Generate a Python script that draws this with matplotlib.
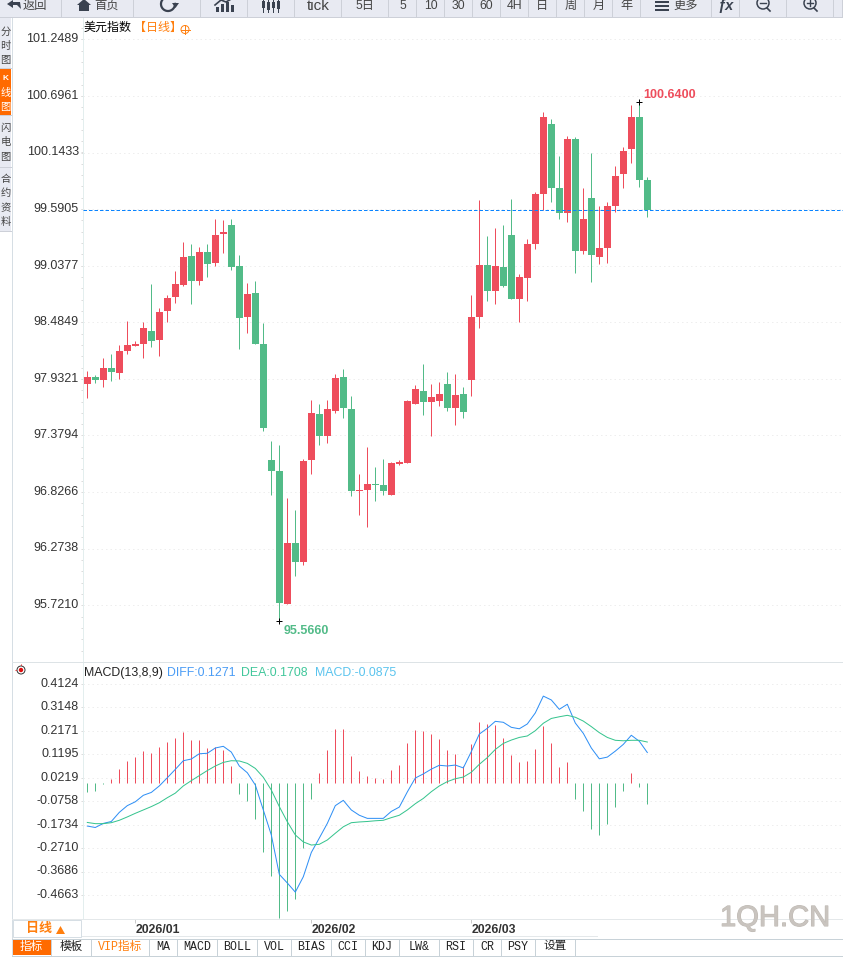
import matplotlib
matplotlib.use('Agg')
import matplotlib.pyplot as plt
import matplotlib.patheffects as pe
from matplotlib.patches import Rectangle, Circle, Polygon, Arc
from matplotlib.ticker import AutoMinorLocator
from matplotlib.transforms import ScaledTranslation

plt.rcParams['font.family'] = ['Liberation Sans', 'Noto Sans CJK SC', 'DejaVu Sans']

# daily candles, oldest first
candle_open = [97.882, 97.950, 97.921, 98.038, 97.989, 98.204, 98.253, 98.272, 98.399, 98.311,
               98.595, 98.732, 98.849, 99.132, 98.888, 99.171, 99.064, 99.347, 99.435, 99.034,
               98.536, 98.771, 98.272, 97.140, 97.032, 95.733, 96.329, 96.143, 97.140, 97.589,
               97.374, 97.618, 97.950, 97.638, 96.837, 96.847, 96.905, 96.896, 96.798, 97.101,
               97.110, 97.687, 97.814, 97.706, 97.716, 97.882, 97.648, 97.785, 97.921, 98.537,
               99.045, 98.791, 99.025, 99.338, 98.712, 98.918, 99.250, 99.738, 100.422, 99.797,
               99.553, 100.275, 99.181, 99.699, 99.123, 99.211, 99.621, 99.934, 100.178, 100.490, 99.875]
candle_close = [97.950, 97.921, 98.038, 97.999, 98.204, 98.263, 98.272, 98.429, 98.302, 98.585,
                98.722, 98.858, 99.122, 98.888, 99.171, 99.054, 99.337, 99.366, 99.025, 98.526,
                98.761, 98.272, 97.452, 97.032, 95.743, 96.329, 96.143, 97.130, 97.599, 97.374,
                97.638, 97.941, 97.648, 96.837, 96.847, 96.905, 96.896, 96.837, 97.110, 97.120,
                97.716, 97.833, 97.706, 97.755, 97.785, 97.648, 97.775, 97.609, 98.537, 99.045,
                98.791, 99.035, 98.839, 98.712, 98.927, 99.250, 99.738, 100.490, 99.797, 99.553,
                100.275, 99.181, 99.494, 99.142, 99.211, 99.621, 99.914, 100.158, 100.490, 99.875, 99.579]
candle_high = [98.009, 97.970, 98.136, 98.175, 98.263, 98.497, 98.302, 98.487, 98.858, 98.624,
               98.751, 98.985, 99.269, 99.249, 99.220, 99.249, 99.493, 99.484, 99.493, 99.142,
               98.868, 98.888, 98.478, 97.325, 97.286, 96.769, 96.651, 97.150, 97.726, 97.687,
               97.726, 97.980, 98.029, 97.765, 97.003, 97.267, 97.071, 97.150, 97.120, 97.140,
               97.726, 97.872, 98.077, 97.882, 97.902, 97.999, 97.980, 97.853, 98.752, 99.680,
               99.328, 99.406, 99.435, 99.689, 98.957, 99.299, 99.758, 100.539, 100.471, 100.109,
               100.305, 100.295, 99.797, 100.139, 99.621, 99.660, 100.012, 100.197, 100.607, 100.640, 99.904]
candle_low = [97.745, 97.891, 97.852, 97.911, 97.931, 98.175, 98.253, 98.136, 98.243, 98.155,
              98.487, 98.673, 98.839, 98.663, 98.849, 98.927, 99.034, 99.161, 98.995, 98.224,
              98.380, 98.272, 97.423, 96.798, 95.566, 95.733, 96.007, 96.114, 97.003, 97.286,
              97.306, 97.599, 97.550, 96.788, 96.603, 96.485, 96.739, 96.798, 96.798, 97.091,
              97.110, 97.687, 97.579, 97.374, 97.667, 97.618, 97.481, 97.550, 97.765, 98.429,
              98.693, 98.664, 98.830, 98.712, 98.488, 98.693, 99.201, 99.582, 99.660, 99.494,
              99.465, 98.966, 99.152, 98.879, 99.054, 99.064, 99.562, 99.797, 100.041, 99.806, 99.513]

diff_line = [-0.179, -0.185, -0.168, -0.160, -0.122, -0.094, -0.078, -0.051, -0.039, -0.012,
             0.022, 0.057, 0.093, 0.100, 0.122, 0.124, 0.146, 0.153, 0.129, 0.071,
             0.043, -0.008, -0.112, -0.216, -0.380, -0.416, -0.454, -0.390, -0.289, -0.229,
             -0.168, -0.094, -0.072, -0.112, -0.134, -0.147, -0.147, -0.147, -0.118, -0.100,
             -0.037, 0.021, 0.038, 0.058, 0.074, 0.071, 0.075, 0.063, 0.131, 0.204,
             0.228, 0.257, 0.253, 0.232, 0.226, 0.246, 0.292, 0.362, 0.346, 0.307,
             0.328, 0.250, 0.207, 0.146, 0.101, 0.108, 0.133, 0.161, 0.199, 0.174, 0.1271]
dea_line = [-0.164, -0.169, -0.169, -0.165, -0.155, -0.141, -0.126, -0.112, -0.098, -0.082,
            -0.061, -0.042, -0.012, 0.010, 0.031, 0.052, 0.071, 0.086, 0.093, 0.092,
            0.082, 0.061, 0.024, -0.029, -0.098, -0.161, -0.216, -0.245, -0.258, -0.255,
            -0.237, -0.209, -0.182, -0.165, -0.162, -0.160, -0.157, -0.155, -0.144, -0.134,
            -0.112, -0.086, -0.064, -0.036, -0.012, 0.006, 0.018, 0.025, 0.045, 0.078,
            0.106, 0.140, 0.165, 0.179, 0.190, 0.196, 0.218, 0.249, 0.269, 0.276,
            0.282, 0.274, 0.258, 0.235, 0.210, 0.190, 0.178, 0.176, 0.178, 0.178, 0.1708]
macd_hist = [-0.036, -0.032, -0.002, 0.018, 0.060, 0.093, 0.110, 0.135, 0.126, 0.151,
             0.172, 0.189, 0.214, 0.181, 0.181, 0.148, 0.151, 0.139, 0.072, -0.045,
             -0.074, -0.149, -0.285, -0.385, -0.560, -0.531, -0.481, -0.272, -0.065, 0.040,
             0.139, 0.226, 0.226, 0.114, 0.051, 0.031, 0.022, 0.018, 0.056, 0.076,
             0.167, 0.221, 0.217, 0.204, 0.183, 0.139, 0.122, 0.072, 0.164, 0.255,
             0.247, 0.243, 0.189, 0.118, 0.089, 0.093, 0.143, 0.239, 0.167, 0.068,
             0.089, -0.065, -0.115, -0.190, -0.215, -0.169, -0.099, -0.032, 0.043, -0.015, -0.0875]

price_ticks = [101.2489, 100.6961, 100.1433, 99.5905, 99.0377, 98.4849, 97.9321, 97.3794, 96.8266, 96.2738, 95.7210]
macd_ticks = [0.4124, 0.3148, 0.2171, 0.1195, 0.0219, -0.0758, -0.1734, -0.2710, -0.3686, -0.4663]
month_pos = [6, 28, 48]
month_labels = ['2026/01', '2026/02', '2026/03']

toolbar_labels = ['tick', '5日', '5', '10', '30', '60', '4H', '日', '周', '月', '年']
side_tabs = ['分时图', 'K线图', '闪电图', '合约资料']
bottom_tabs = ['指标', '模板', 'VIP指标', 'MA', 'MACD', 'BOLL', 'VOL', 'BIAS', 'CCI', 'KDJ', 'LW&', 'RSI', 'CR', 'PSY', '设置']

RED = '#EE4D5C'
GREEN = '#52BB88'
ORANGE = '#FF7F0E'
TAB = '#E8EAF2'
EDGE = '#CDD0D8'
PT = 0.72  # one pixel in points at dpi 100

W, H = 843, 957


def place(top, bottom):
    return fig.add_axes([83 / W, 1 - bottom / H, (W - 83) / W, (bottom - top) / H])


fig = plt.figure(figsize=(W / 100, H / 100), dpi=100, facecolor='white')

# price panel
ax1 = place(18, 661)
idx = list(range(len(candle_open)))
colors = [RED if c >= o else GREEN for o, c in zip(candle_open, candle_close)]
ax1.vlines(idx, candle_low, candle_high, colors=colors, lw=PT)
ax1.bar(idx, [abs(c - o) for o, c in zip(candle_open, candle_close)],
        bottom=[min(o, c) for o, c in zip(candle_open, candle_close)],
        width=7 / 8, color=colors, linewidth=0, zorder=3)
ax1.set_xlim(-0.5375, 94.46)
ax1.set_ylim(101.633 - 661 * 0.009768, 101.633 - 18 * 0.009768)
ax1.set_yticks(price_ticks, labels=['%.4f' % v for v in price_ticks])
ax1.yaxis.set_minor_locator(AutoMinorLocator(5))
ax1.grid(axis='y', color='#EEEEEE', lw=PT, ls=(0, (1.5, 3)))
ax1.set_axisbelow(True)
ax1.set_xticks([])
ax1.axhline(candle_close[-1], color='#0A84FF', lw=PT, ls=(0, (3.5, 2)), zorder=4)

top_i = candle_high.index(max(candle_high))
low_i = candle_low.index(min(candle_low))
ax1.plot([top_i], [candle_high[top_i]], marker='+', color='black', ms=5, mew=PT, zorder=5)
ax1.plot([low_i], [candle_low[low_i]], marker='+', color='black', ms=5, mew=PT, zorder=5)
ax1.annotate('%.4f' % candle_high[top_i], (top_i, candle_high[top_i]), xytext=(3, 0.7),
             textcoords='offset points', color=RED, fontweight='bold', fontsize=9, va='bottom')
ax1.annotate('%.4f' % candle_low[low_i], (low_i, candle_low[low_i]), xytext=(3, -3),
             textcoords='offset points', color=GREEN, fontweight='bold', fontsize=9, va='top')

# macd panel
ax2 = place(662, 919)
ax2.vlines(idx, 0, macd_hist, colors=[RED if v > 0 else GREEN for v in macd_hist], lw=PT)
ax2.plot(idx, diff_line, color='#2E8FF5', lw=PT)
ax2.plot(idx, dea_line, color='#36C48E', lw=PT)
ax2.set_xlim(-0.5375, 94.46)
ax2.set_ylim(0.4124 - (919 - 684) / 240.2, 0.4124 + (684 - 662) / 240.2)
ax2.set_yticks(macd_ticks, labels=['%.4f' % v for v in macd_ticks])
ax2.grid(axis='y', color='#EEEEEE', lw=PT, ls=(0, (1.5, 3)))
ax2.set_axisbelow(True)
ax2.set_xticks(month_pos, labels=month_labels, ha='left', fontweight='bold', fontsize=8.8, color='#333333')
ax2.tick_params(axis='x', length=3, width=PT, color='#CCCCCC', pad=0.3)

lift = ScaledTranslation(0, 1.2 / 72, fig.dpi_scale_trans)
for ax in (ax1, ax2):
    for s in ('top', 'right', 'bottom'):
        ax.spines[s].set_visible(False)
    ax.spines['left'].set_color('#E3EEEE')
    ax.spines['left'].set_linewidth(PT)
    ax.tick_params(axis='y', which='both', length=1.5, width=PT, color='#DDDDDD',
                   labelsize=9, labelcolor='#333333', pad=1.6)
    for lab in ax.get_yticklabels():
        lab.set_transform(lab.get_transform() + lift)

# page furniture, drawn in pixel coordinates
page = fig.add_axes([0, 0, 1, 1], zorder=10)
page.set_xlim(0, W)
page.set_ylim(H, 0)
page.axis('off')
page.patch.set_alpha(0)


def box(x0, y0, x1, y1, fc, ec='none', lw=0.0):
    page.add_patch(Rectangle((x0, y0), x1 - x0, y1 - y0, fc=fc, ec=ec, lw=lw))


def hline(y, x0, x1, c='#DDE3E6'):
    page.plot([x0, x1], [y, y], color=c, lw=PT)


def vline(x, y0, y1, c='#DDE3E6'):
    page.plot([x, x], [y0, y1], color=c, lw=PT)


# toolbar
edges = [0, 62, 134, 201, 248, 295, 342, 389, 417, 445, 473, 501, 529, 557, 585, 613, 641, 712, 740, 787, 834, 843]
for a, b in zip(edges[:-1], edges[1:]):
    box(a, 0, b - 1, 17, TAB)
    hline(17, a, b - 1, EDGE)
    vline(b - 1, 0, 17, EDGE)
for lab, a, b in zip(toolbar_labels, edges[5:16], edges[6:17]):
    page.text((a + b) / 2 - 0.5, 6, lab, ha='center', va='center', color='#444444',
              fontsize=11 if lab == 'tick' else 8.8)
page.text(23, 6, '返回', va='center', color='#444444', fontsize=8.8)
page.text(94, 6, '首页', va='center', color='#444444', fontsize=8.8)
page.text(673, 6, '更多', va='center', color='#444444', fontsize=8.8)
page.text(717, 6, 'ƒx', va='center', color='#3A4250', fontsize=10.5, fontweight='bold', style='italic')
# back arrow, home
page.add_patch(Polygon([(7, 4), (13, 0), (13, 2), (20, 2), (21, 9), (17, 5), (13, 5), (13, 8)], fc='#3A4250'))
page.add_patch(Polygon([(77, 5), (84, -1), (91, 5), (89, 5), (89, 11), (79, 11), (79, 5)], fc='#3A4250'))
# refresh
page.add_patch(Arc((168, 4), 14, 14, theta1=-10, theta2=280, ec='#3A4250', lw=1.6))
page.add_patch(Polygon([(172, 3), (179, 3), (175.5, 8)], fc='#3A4250'))
# bar chart icon
for x, y in zip((216, 221, 226, 231), (7, 4, 2, 5)):
    box(x, y, x + 3, 12, '#3A4250')
page.plot([215, 221, 226, 233], [5, 0, 2, -2], color='#3A4250', lw=1.2)
# candle icon
for x, y0, y1 in zip((263, 268, 273, 278), (1, 2, 2, 1), (8, 10, 8, 9)):
    vline(x, 0, 12, '#3A4250')
    box(x - 1.5, y0, x + 1.5, y1, '#3A4250')
# hamburger
for y in (1, 5, 9):
    box(655, y, 669, y + 2, '#3A4250')
# zoom buttons
for cx, plus in ((763, False), (810, True)):
    page.add_patch(Circle((cx, 3), 6, fc='none', ec='#3A4250', lw=1.1))
    page.plot([cx + 4, cx + 7], [8, 11], color='#3A4250', lw=1.2)
    page.plot([cx - 3, cx + 3], [3, 3], color='#3A4250', lw=1.0)
    if plus:
        page.plot([cx, cx], [0, 6], color='#3A4250', lw=1.0)

# side tabs
spans = [(18, 68), (69, 115), (116, 167), (168, 231)]
for lab, (y0, y1) in zip(side_tabs, spans):
    active = lab.startswith('K')
    box(0, y0, 11, y1, '#FF6A00' if active else TAB)
    hline(y1, 0, 11, EDGE)
    step = 14.3
    start = (y0 + y1) / 2 - step * (len(lab) - 1) / 2
    for n, ch in enumerate(lab):
        page.text(5.5, start + n * step + (1 if lab != '分时图' else 3), ch, ha='center', va='center',
                  color='white' if active else '#444444', fontsize=6 if ch == 'K' else 7.4,
                  fontweight='bold' if ch == 'K' else 'normal')
vline(11.5, 18, H, '#D6DEE4')

# panel titles
page.text(84, 28, '美元指数', va='center', color='black', fontsize=8.64)
page.text(134, 28, '【日线】', va='center', color=ORANGE, fontsize=8.64)
page.add_patch(Circle((185, 29.5), 4, fc='none', ec=ORANGE, lw=0.7))
page.plot([180.5, 189.5], [29.5, 29.5], color=ORANGE, lw=0.7)
page.plot([185, 185], [25, 34], color=ORANGE, lw=0.7)

hline(662, 12, W)
page.add_patch(Circle((21, 670), 2.2, fc='#E01010', ec='none'))
page.add_patch(Circle((21, 670), 4, fc='none', ec='#333333', lw=0.7))
page.plot([15, 27], [670, 670], color='#E01010', lw=0.6, ls=(0, (1.5, 6)))
page.plot([21, 21], [664, 676], color='#E01010', lw=0.6, ls=(0, (1.5, 6)))

for x, lab, c in ((84, 'MACD(13,8,9)', '#222222'), (167, 'DIFF:0.1271', '#4A9CF5'),
                  (241, 'DEA:0.1708', '#41C79B'), (315, 'MACD:-0.0875', '#5BC4EE')):
    page.text(x, 673, lab, va='center', color=c, fontsize=8.9)

# bottom bars
hline(919, 12, W, '#E4E8EA')
hline(936, 82, 597, '#E4E8EA')
box(13, 920, 81, 937, 'white', '#D6DEE4', PT)
page.text(26, 929, '日线', va='center', color=ORANGE, fontsize=9.4, fontweight='bold')
page.add_patch(Polygon([(56, 934), (65, 934), (60.5, 926)], fc=ORANGE))
hline(938.5, 12, W, '#C8D2D8')
hline(955.5, 12, W, '#C8D2D8')
box(576, 956, W, H, '#D6DEE4')

tab_edges = [12, 51, 91, 149, 177, 217, 257, 291, 331, 365, 399, 439, 473, 501, 535, 575]
for lab, a, b in zip(bottom_tabs, tab_edges[:-1], tab_edges[1:]):
    first = lab == '指标'
    if first:
        box(a, 939, b, 955, '#FF6A00')
    vline(b, 939, 955, '#C8D2D8')
    c = 'white' if first else (ORANGE if lab.startswith('VIP') else '#222222')
    page.text((a + b) / 2, 946.5, lab, ha='center', va='center', color=c, fontsize=8.4,
              family=['Liberation Mono', 'Noto Sans CJK SC'])

mark = page.text(720, 918, '1QH.CN', va='center', color='#C9C4BF', fontsize=21)
mark.set_path_effects([pe.withStroke(linewidth=0.8, foreground='#BFBAB4')])

fig.savefig('out.png', dpi=100)
